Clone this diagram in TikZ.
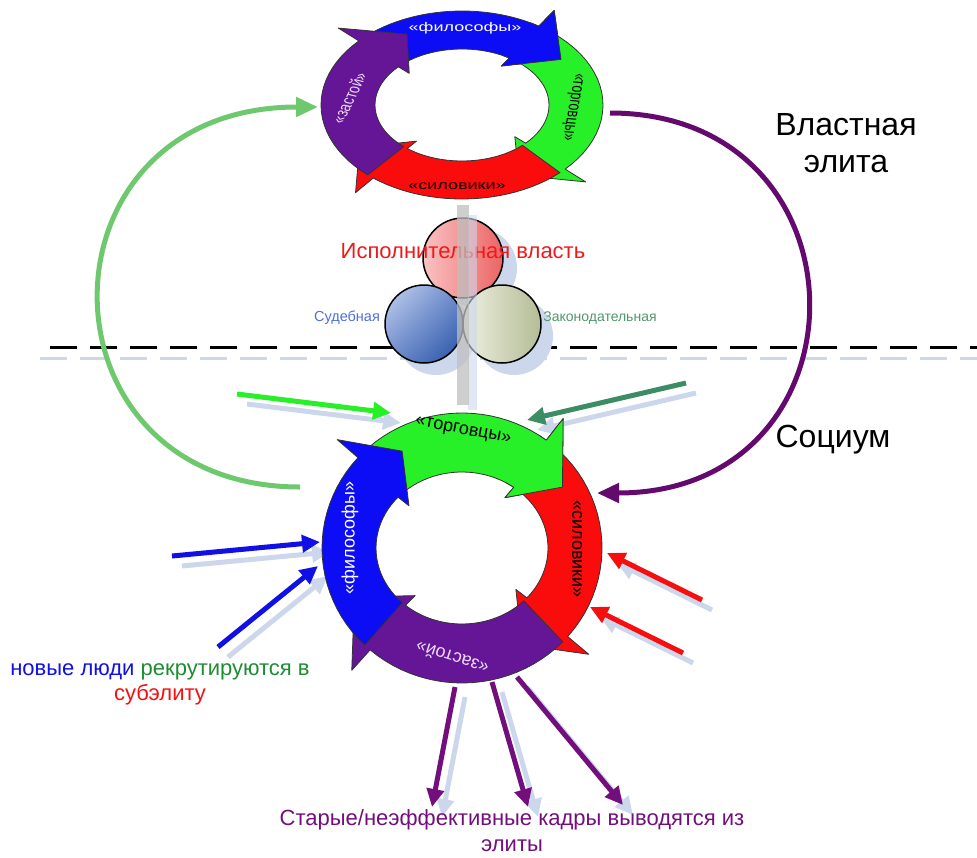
\documentclass[tikz,border=0pt]{standalone}
\usepackage{fontspec}
\setmainfont{Liberation Sans}
\usetikzlibrary{arrows.meta,shadings}

\definecolor{ringblue}{RGB}{12,12,245}
\definecolor{ringgreen}{RGB}{40,240,40}
\definecolor{ringred}{RGB}{250,12,12}
\definecolor{ringpurple}{RGB}{100,22,150}
\definecolor{stagtxt}{RGB}{235,220,245}
\definecolor{shadowc}{RGB}{205,215,235}
\definecolor{curvegreen}{RGB}{110,200,110}
\definecolor{curvepurple}{RGB}{100,10,110}
\definecolor{inpteal}{RGB}{60,140,100}
\definecolor{inpblue}{RGB}{15,15,230}
\definecolor{inpred}{RGB}{245,15,15}
\definecolor{outpurple}{RGB}{115,15,125}
\definecolor{execred}{RGB}{240,25,25}
\definecolor{judblue}{RGB}{80,110,220}
\definecolor{legisgreen}{RGB}{80,150,110}
\definecolor{recgreen}{RGB}{30,140,50}
\definecolor{execlight}{RGB}{250,195,195}
\definecolor{execdark}{RGB}{235,100,100}
\definecolor{judlight}{RGB}{200,212,240}
\definecolor{judmid}{RGB}{110,140,205}
\definecolor{juddark}{RGB}{35,80,165}
\definecolor{legislight}{RGB}{238,240,225}
\definecolor{legisdark}{RGB}{180,188,150}

% one curved arrow of a ring: start, head base, tip, colour
\newcommand{\ringarc}[4]{%
  \filldraw[ringedge, fill=#4]
    plot[domain=#1:#2, samples=24, variable=\t] ({\rcx+\rxo*cos(\t)}, {\rcy+\ryo*sin(\t)})
    -- ({\rcx+1.2*\rxo*cos(#2)}, {\rcy+1.2*\ryo*sin(#2)})
    -- ({\rcx+0.53*(\rxo+\rxi)*cos(#3)}, {\rcy+0.53*(\ryo+\ryi)*sin(#3)})
    -- ({\rcx+0.83*\rxi*cos(#2)}, {\rcy+0.83*\ryi*sin(#2)})
    -- plot[domain=#2:#1, samples=24, variable=\t] ({\rcx+\rxi*cos(\t)}, {\rcy+\ryi*sin(\t)})
    -- cycle;}
% redraw the head of the first arrow over the tail of the next one
\newcommand{\ringfix}[4]{%
  \begin{scope}
    \clip (\rcx,\rcy) -- ({\rcx+3*\rxo*cos(#2-4)}, {\rcy+3*\ryo*sin(#2-4)})
      -- ({\rcx+3*\rxo*cos((#2+#3)/2)}, {\rcy+3*\ryo*sin((#2+#3)/2)})
      -- ({\rcx+3*\rxo*cos(#3+10)}, {\rcy+3*\ryo*sin(#3+10)}) -- cycle;
    \ringarc{#1}{#2}{#3}{#4}
  \end{scope}}

\begin{document}
\begin{tikzpicture}[x=1pt, y=-1pt,
    ringedge/.style={draw=black!80, line width=0.8pt, line join=round},
    ringlbl/.style={font=\fontsize{18}{20}\selectfont, inner sep=0pt},
    toplbl/.style={ringlbl, yscale=0.7},
    feed/.style={line width=5pt, -{Triangle[length=18pt, width=17pt]}},
    feedshadow/.style={feed, draw=shadowc, transform canvas={shift={(10,10)}}},
    bigcurve/.style={line width=5pt, -{Triangle[length=22pt, width=19pt]}},
    elitetxt/.style={font=\fontsize{32}{37}\selectfont, align=center},
    notetxt/.style={font=\fontsize{22}{25}\selectfont, align=center},
    branch/.style={draw=black, line width=1.5pt}]
  \useasboundingbox (0,0) rectangle (977,857);

  % border between elite and society
  \draw[shadowc, line width=3pt, dash pattern=on 27pt off 13pt] (40,358) -- (977,358);
  \draw[black, line width=3pt, dash pattern=on 27pt off 13pt] (50,347) -- (977,347);

  % three branches of power
  \fill[shadowc] (477,268) circle (40);
  \fill[shadowc] (436,336) circle (39);
  \fill[shadowc] (514,336) circle (39);
  \shadedraw[branch, left color=execlight, right color=execdark] (463,258) circle (40);
  \shadedraw[branch, upper left=judlight, upper right=judmid, lower left=judmid, lower right=juddark] (424,324) circle (39);
  \shadedraw[branch, left color=legislight, right color=legisdark] (502,324) circle (39);
  \node[font=\fontsize{22}{24}\selectfont, text=execred] (exec) at (463,251) {Исполнительная власть};
  \node[font=\fontsize{14.5}{16}\selectfont, text=judblue] (judic) at (347,318) {Судебная};
  \node[font=\fontsize{14}{16}\selectfont, text=legisgreen] (legis) at (600,318) {Законодательная};
  \fill[shadowc, opacity=0.6] (468,215) rectangle (477,410);
  \fill[black!25, opacity=0.75] (457,205) rectangle (469,405);

  % connectors
  \coordinate (gc-s) at (300,487);
  \coordinate (gc-e) at (318,107);
  \coordinate (pc-s) at (610,113);
  \coordinate (pc-e) at (597,493);
  \coordinate (gin-s) at (237,394);
  \coordinate (gin-e) at (391,413);
  \coordinate (tin-s) at (686,383);
  \coordinate (tin-e) at (527,420);
  \coordinate (bin1-s) at (172,556);
  \coordinate (bin1-e) at (320,542);
  \coordinate (bin2-s) at (218,647);
  \coordinate (bin2-e) at (318,566);
  \coordinate (rin1-s) at (702,600);
  \coordinate (rin1-e) at (607,553);
  \coordinate (rin2-s) at (683,653);
  \coordinate (rin2-e) at (590,607);
  \coordinate (pout1-s) at (455,687);
  \coordinate (pout1-e) at (432,807);
  \coordinate (pout2-s) at (492,682);
  \coordinate (pout2-e) at (528,807);
  \coordinate (pout3-s) at (517,677);
  \coordinate (pout3-e) at (623,805);

  \draw[bigcurve, curvegreen] (gc-s) .. controls (30,487) and (30,107) .. (gc-e);
  \draw[bigcurve, curvepurple] (pc-s) .. controls (875,113) and (875,493) .. (pc-e);

  \foreach \a in {gin,tin,bin1,bin2,rin1,rin2,pout1,pout2,pout3}
    \draw[feedshadow] (\a-s) -- (\a-e);
  \draw[feed, ringgreen] (gin-s) -- (gin-e);
  \draw[feed, inpteal] (tin-s) -- (tin-e);
  \draw[feed, inpblue] (bin1-s) -- (bin1-e);
  \draw[feed, inpblue] (bin2-s) -- (bin2-e);
  \draw[feed, inpred] (rin1-s) -- (rin1-e);
  \draw[feed, inpred] (rin2-s) -- (rin2-e);
  \draw[feed, outpurple] (pout1-s) -- (pout1-e);
  \draw[feed, outpurple] (pout2-s) -- (pout2-e);
  \draw[feed, outpurple] (pout3-s) -- (pout3-e);

  % ring of the power elite
  \def\rcx{462}\def\rcy{105}\def\rxo{141}\def\ryo{94}\def\rxi{87}\def\ryi{56}
  \ringarc{226}{303}{325}{ringblue}
  \ringarc{306}{403}{422}{ringgreen}
  \ringarc{46}{129}{148}{ringred}
  \ringarc{132}{223}{243}{ringpurple}
  \ringfix{226}{303}{325}{ringblue}
  \node[toplbl, white] (t-phil) at (465,28) {«философы»};
  \node[toplbl, rotate=-97] (t-trade) at (572,107) {«торговцы»};
  \node[toplbl] (t-force) at (457,186) {«силовики»};
  \node[toplbl, stagtxt, rotate=71] (t-stag) at (349,98) {«застой»};

  % ring of society
  \def\rcx{462}\def\rcy{548}\def\rxo{140}\def\ryo{135}\def\rxi{86}\def\ryi{76}
  \ringarc{225}{307}{327}{ringgreen}
  \ringarc{310}{401}{420}{ringred}
  \ringarc{44}{131}{154}{ringpurple}
  \ringarc{134}{222}{240}{ringblue}
  \ringfix{225}{307}{327}{ringgreen}
  \node[ringlbl, rotate=-11] (b-trade) at (463,431) {«торговцы»};
  \node[ringlbl, rotate=-90] (b-force) at (577,549) {«силовики»};
  \node[ringlbl, stagtxt, rotate=162] (b-stag) at (452,658) {«застой»};
  \node[ringlbl, white, rotate=90] (b-phil) at (350,538) {«философы»};

  % texts
  \node[elitetxt] (elite) at (846,143) {Властная\\элита};
  \node[elitetxt] (socium) at (833,440) {Социум};
  \node[notetxt] (recruit) at (160,684) {\textcolor{inpblue}{новые люди} \textcolor{recgreen}{рекрутируются в}\\\textcolor{inpred}{субэлиту}};
  \node[notetxt, font=\fontsize{22}{26}\selectfont, text=outpurple, inner sep=1pt] (retire) at (512,831) {Старые/неэффективные кадры выводятся из\\элиты};
\end{tikzpicture}
\end{document}
